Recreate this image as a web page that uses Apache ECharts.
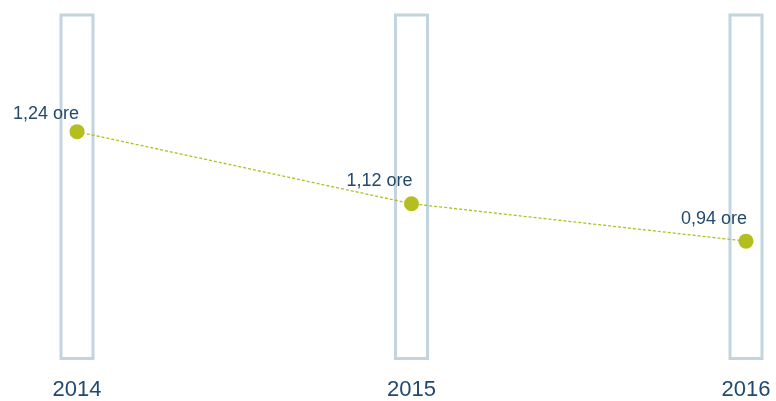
<!DOCTYPE html>
<html>
<head>
<meta charset="utf-8">
<script src="https://cdn.jsdelivr.net/npm/echarts@6/dist/echarts.min.js"></script>
<style>
  html, body { margin: 0; padding: 0; background: #fff; }
  #chart { width: 776px; height: 401px; }
</style>
</head>
<body>
<div id="chart"></div>
<script>
// dati
const years = ['2014', '2015', '2016']
const frameHeight = [100, 100, 100]
// posizione verticale dei punti (scala 0-100 del riquadro)
const pointLevel = [65.9, 45.1, 34.3]
const pointLabels = ['1,24 ore', '1,12 ore', '0,94 ore']

const chart = echarts.init(document.getElementById('chart'))

const option = {
  animation: false,
  textStyle: { fontFamily: 'Liberation Sans, Arial, sans-serif' },
  grid: { left: 77, right: 30, top: 13.5, bottom: 36, containLabel: false },
  xAxis: {
    type: 'category',
    data: years,
    boundaryGap: false,
    axisLine: { show: false },
    axisTick: { show: false },
    axisLabel: { color: '#234a6e', fontSize: 22, margin: 19 }
  },
  yAxis: {
    type: 'value',
    min: 0,
    max: 100,
    show: false
  },
  series: [
    {
      type: 'bar',
      data: frameHeight,
      barWidth: 35,
      silent: true,
      itemStyle: {
        color: 'rgba(0,0,0,0)',
        borderColor: '#c2d4dd',
        borderWidth: 3
      }
    },
    {
      type: 'line',
      data: pointLevel.map((v, i) => i === 0
        ? { value: v, label: { offset: [-31, 4] } }
        : v),
      symbol: 'circle',
      symbolSize: 15,
      itemStyle: { color: '#b3be1f' },
      lineStyle: { color: '#b3be1f', width: 1.3, type: [3, 2] },
      label: {
        show: true,
        position: 'top',
        offset: [-32, -1],
        color: '#234a6e',
        fontSize: 18,
        formatter: (p) => pointLabels[p.dataIndex]
      },
      z: 3
    }
  ]
}

chart.setOption(option)
</script>
</body>
</html>
